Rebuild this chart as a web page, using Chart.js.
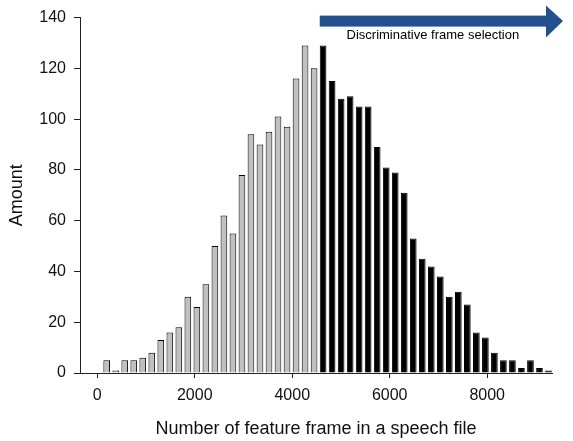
<!DOCTYPE html>
<html>
<head>
<meta charset="utf-8">
<script src="https://cdn.jsdelivr.net/npm/chart.js@4.4.1/dist/chart.umd.min.js"></script>
<style>
  body { margin: 0; background: #fff; }
  #wrap { width: 573px; height: 441px; position: relative; }
</style>
</head>
<body>
<div id="wrap"><canvas id="histChart"></canvas></div>
<script>
// bin centres (frames) and counts
const binCenters = [
    193, 378, 563, 748, 933, 1118, 1303, 1488, 1673, 1858,
    2043, 2228, 2413, 2598, 2783, 2968, 3153, 3338, 3523, 3708,
    3893, 4078, 4263, 4448,
    4633, 4818, 5003, 5188, 5373, 5558, 5743, 5928, 6113, 6298,
    6483, 6668, 6853, 7038, 7223, 7408, 7593, 7778, 7963, 8148,
    8333, 8518, 8703, 8888, 9073, 9258
];
const counts = [
    5, 1, 5, 5, 6, 8, 13, 16, 18, 30,
    26, 35, 50, 62, 55, 78, 94, 90, 95, 101,
    97, 116, 129, 120,
    129, 115, 108, 109, 105, 105, 89, 81, 79, 71,
    53, 45, 42, 38, 30, 32, 27, 16, 14, 8,
    5, 5, 2, 5, 2, 1
];
const firstSelected = 24; // bins from here on are "selected"
const xTicks = [0, 2000, 4000, 6000, 8000];
const yTicks = [0, 20, 40, 60, 80, 100, 120, 140];
const arrowLabel = 'Discriminative frame selection';

const toPoints = (from, to) => binCenters.slice(from, to).map((x, i) => ({ x: x, y: counts[from + i] }));

// blue arrow above the selected part
const arrowPlugin = {
    id: 'selectionArrow',
    afterDraw(chart) {
        const c = chart.ctx;
        const area = chart.chartArea;
        const bar = chart.getDatasetMeta(1).data[0];
        const x0 = bar.x - bar.width / 2;
        const xTip = chart.width - 10;
        const xHead = xTip - 17;
        const top = area.top;
        c.save();
        c.fillStyle = '#24508c';
        c.fillRect(x0, top - 2, xHead - x0, 11);
        c.beginPath();
        c.moveTo(xHead, top - 12);
        c.lineTo(xTip, top + 3.5);
        c.lineTo(xHead, top + 20);
        c.closePath();
        c.fill();
        c.fillStyle = '#000';
        c.font = '13px "Liberation Sans", Arial, sans-serif';
        c.textAlign = 'center';
        c.textBaseline = 'middle';
        c.fillText(arrowLabel, (x0 + xHead) / 2, top + 18);
        c.restore();
    }
};

const ctx = document.getElementById('histChart');
new Chart(ctx, {
    type: 'bar',
    data: {
        datasets: [{
            data: toPoints(0, firstSelected),
            backgroundColor: '#c0c0c0',
            borderColor: '#000',
            borderWidth: 1
        }, {
            data: toPoints(firstSelected, binCenters.length),
            backgroundColor: '#000',
            borderColor: '#000',
            borderWidth: 1
        }]
    },
    options: {
        responsive: true,
        maintainAspectRatio: false,
        animation: false,
        grouped: false,
        barPercentage: 0.74,
        categoryPercentage: 1,
        layout: { padding: { left: 0, right: 21, top: 15, bottom: 0 } },
        plugins: {
            legend: { display: false },
            tooltip: { enabled: false }
        },
        scales: {
            x: {
                type: 'linear',
                offset: false,
                min: -355,
                max: 9330,
                afterBuildTicks: s => { s.ticks = xTicks.map(v => ({ value: v })); },
                afterFit: s => { s.height = 68; },
                grid: { display: true, offset: false, drawOnChartArea: false, tickLength: 5, color: '#222' },
                border: { color: '#222', width: 1 },
                ticks: {
                    color: '#111',
                    padding: 8,
                    maxRotation: 0,
                    font: { family: '"Liberation Sans", Arial, sans-serif', size: 16 },
                    callback: v => String(v)
                },
                title: {
                    display: true,
                    text: 'Number of feature frame in a speech file',
                    color: '#111',
                    padding: { top: 0, bottom: 1 },
                    font: { family: '"Liberation Sans", Arial, sans-serif', size: 18 }
                }
            },
            y: {
                min: 0,
                max: 140,
                afterBuildTicks: s => { s.ticks = yTicks.map(v => ({ value: v })); },
                afterFit: s => { s.width = 80; },
                grid: { display: true, drawOnChartArea: false, tickLength: 6, color: '#222' },
                border: { color: '#222', width: 1 },
                ticks: {
                    color: '#111',
                    padding: 8,
                    font: { family: '"Liberation Sans", Arial, sans-serif', size: 16 }
                },
                title: {
                    display: true,
                    text: 'Amount',
                    color: '#111',
                    padding: { top: 6, bottom: 0 },
                    font: { family: '"Liberation Sans", Arial, sans-serif', size: 18 }
                }
            }
        }
    },
    plugins: [arrowPlugin]
});
</script>
</body>
</html>
